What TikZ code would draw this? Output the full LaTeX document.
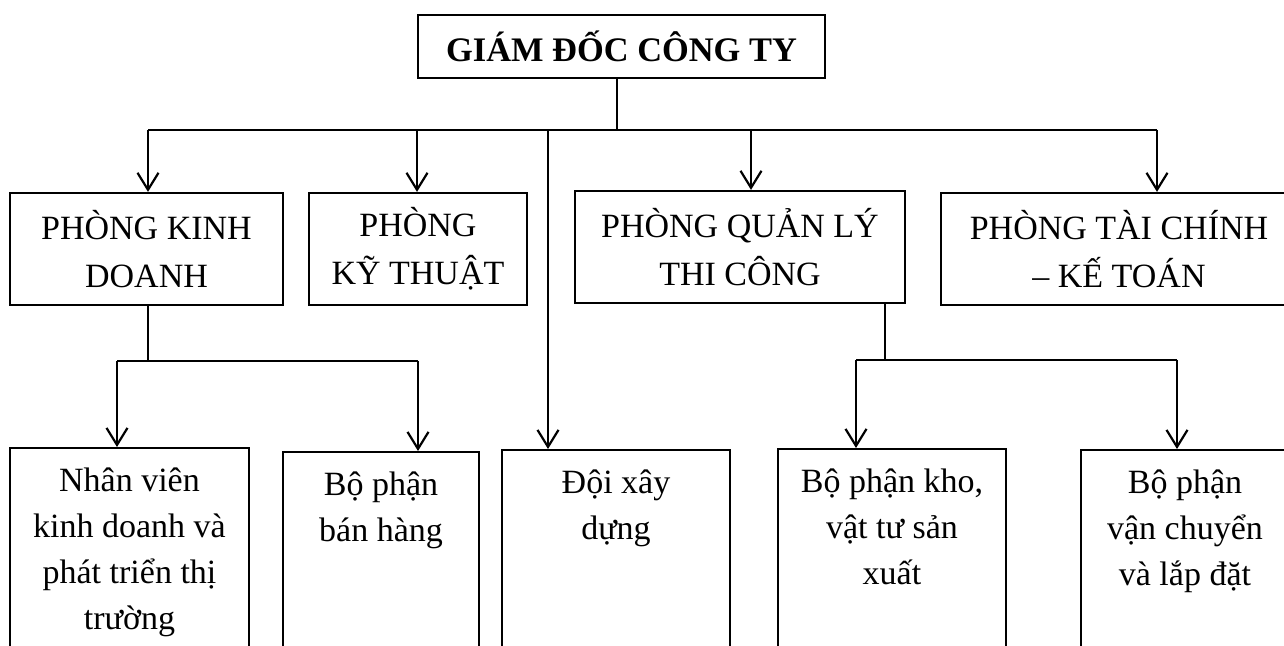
\documentclass[tikz,border=0pt]{standalone}
\usepackage{fontspec}
\setmainfont{Liberation Serif}
\usetikzlibrary{arrows.meta}
\newcommand{\boxfont}{\fontsize{17pt}{23pt}\selectfont}
\newcommand{\unitfont}{\fontsize{17pt}{24pt}\selectfont}
\newcommand{\headfont}{\fontsize{17.2pt}{20pt}\selectfont\bfseries}
\newcommand{\lowtext}[2]{\parbox[t][120pt][t]{#1}{\centering\strut #2}}
\tikzset{
  unit/.style={draw, line width=1.1pt, align=center, font=\unitfont, minimum height=56pt},
  lowunit/.style={draw, line width=1.1pt, anchor=north, inner xsep=0pt, inner ysep=5.4pt, font=\boxfont},
  link/.style={line width=1.1pt},
}
\begin{document}
\begin{tikzpicture}[x=0.5pt,y=-0.5pt,>={Straight Barb[length=8.5pt,width=10.5pt]}]
\useasboundingbox (0,0) rectangle (1284,646);
\clip (0,0) rectangle (1284,646);
\node[draw, line width=1.1pt, font=\headfont, minimum width=203.5pt, minimum height=31.5pt] (gd) at (621.5,46.5) {GIÁM ĐỐC CÔNG TY};
\node[unit, minimum width=136.5pt] (kd) at (146.5,249) {PHÒNG KINH\\DOANH};
\node[unit, minimum width=109pt] (kt) at (418,249) {PHÒNG\\KỸ THUẬT};
\node[unit, minimum width=165pt] (ql) at (740,247) {PHÒNG QUẢN LÝ\\THI CÔNG};
\node[unit, minimum width=178pt] (tc) at (1119,249) {PHÒNG TÀI CHÍNH\\– KẾ TOÁN};
\node[lowunit] (nv) at (129.5,447) {\lowtext{119.5pt}{Nhân viên\\kinh doanh và\\phát triển thị\\trường}};
\node[lowunit] (bh) at (381,451) {\lowtext{98pt}{Bộ phận\\bán hàng}};
\node[lowunit] (dxd) at (616,449) {\lowtext{114pt}{Đội xây\\dựng}};
\node[lowunit] (kho) at (892,448) {\lowtext{114pt}{Bộ phận kho,\\vật tư sản\\xuất}};
\node[lowunit] (vc) at (1185,449) {\lowtext{104pt}{Bộ phận\\vận chuyển\\và lắp đặt}};
% giam doc
\coordinate (g0) at (617,130);
\coordinate (b1) at (148,130);
\coordinate (b2) at (417,130);
\coordinate (b3) at (548,130);
\coordinate (b4) at (751,130);
\coordinate (b5) at (1157,130);
\draw[link] (gd.south -| g0) -- (g0);
\draw[link] (b1) -- (b5);
\foreach \b/\n in {b1/kd,b2/kt,b3/dxd,b4/ql,b5/tc}
  \draw[link,->] (\b) -- (\b |- \n.north);
% kinh doanh
\coordinate (k0) at (148,361);
\coordinate (k1) at (117,361);
\coordinate (k2) at (418,361);
\draw[link] (kd.south -| k0) -- (k0);
\draw[link] (k1) -- (k2);
\draw[link,->] (k1) -- (k1 |- nv.north);
\draw[link,->] (k2) -- (k2 |- bh.north);
% quan ly thi cong
\coordinate (q0) at (885,360);
\coordinate (q1) at (856,360);
\coordinate (q2) at (1177,360);
\draw[link] (ql.south -| q0) -- (q0);
\draw[link] (q1) -- (q2);
\draw[link,->] (q1) -- (q1 |- kho.north);
\draw[link,->] (q2) -- (q2 |- vc.north);
\end{tikzpicture}
\end{document}
